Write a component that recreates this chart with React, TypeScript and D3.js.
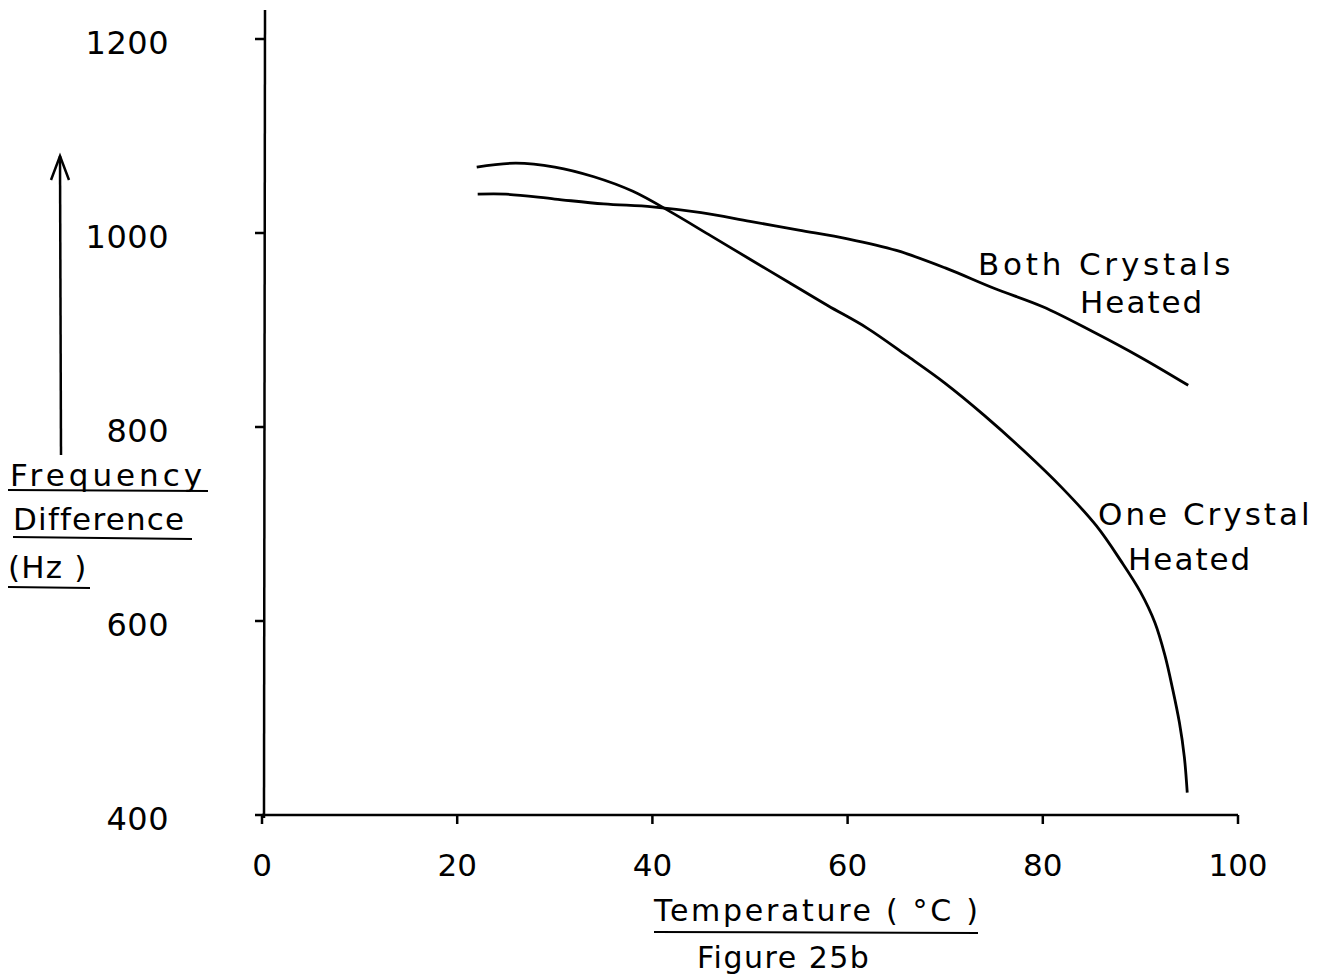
import React from "react";
import * as d3 from "d3";

const xTicks = [0, 20, 40, 60, 80, 100];
const yTicks = [400, 600, 800, 1000, 1200];

const oneCrystalT = [22, 26, 30, 34, 38, 42, 46, 50, 54, 58, 62, 66, 70, 74, 78, 82, 85.5, 88, 90, 91.5, 92.5, 93.3, 94, 94.5, 94.8];
const oneCrystalV = [1068, 1072, 1068, 1058, 1043, 1021, 997, 973, 949, 925, 902, 874, 845, 812, 776, 737, 698, 662, 630, 598, 565, 530, 495, 460, 423];

const bothCrystalsT = [22.1, 25, 30, 35, 40, 45, 50, 55, 60, 65, 70, 75, 80, 85, 90, 94.9];
const bothCrystalsV = [1040, 1040, 1035, 1030, 1027, 1021, 1012, 1003, 994, 982, 964, 943, 924, 899, 872, 843];

const FONT = "'DejaVu Sans', sans-serif";

export default function App() {
  const x = d3.scaleLinear().domain([0, 100]).range([262, 1238]);
  const y = d3.scaleLinear().domain([400, 1200]).range([815, 39]);
  const line = d3
    .line<[number, number]>()
    .x((d) => x(d[0]))
    .y((d) => y(d[1]))
    .curve(d3.curveCatmullRom.alpha(0.5));
  const one = oneCrystalT.map((t, i) => [t, oneCrystalV[i]] as [number, number]);
  const both = bothCrystalsT.map((t, i) => [t, bothCrystalsV[i]] as [number, number]);

  return (
    <svg
      width={1330}
      height={977}
      style={{ position: "absolute", left: 0, top: 0, background: "#fff" }}
      fontFamily={FONT}
    >
      <rect x={0} y={0} width={1330} height={977} fill="#fff" />
      {/* axes */}
      <line x1={265} y1={10} x2={264} y2={818} stroke="#000" strokeWidth={2.5} />
      <line x1={262} y1={815} x2={1238} y2={815} stroke="#000" strokeWidth={2.5} />
      {yTicks.map((v) => (
        <g key={"y" + v}>
          <line x1={255} x2={265} y1={y(v)} y2={y(v)} stroke="#000" strokeWidth={2.5} />
          <text
            x={169}
            y={y(v) + 15}
            textAnchor="end"
            fontSize={32}
            letterSpacing={0.5}
            fill="#000"
          >
            {v}
          </text>
        </g>
      ))}
      {xTicks.map((t) => (
        <g key={"x" + t}>
          <line x1={x(t)} x2={x(t)} y1={815} y2={824} stroke="#000" strokeWidth={2.5} />
          <text x={x(t)} y={876} textAnchor="middle" fontSize={31} fill="#000">
            {t}
          </text>
        </g>
      ))}
      {/* curves */}
      <path d={line(one) || ""} fill="none" stroke="#000" strokeWidth={2.8} />
      <path d={line(both) || ""} fill="none" stroke="#000" strokeWidth={2.8} />
      {/* curve labels */}
      <text x={978} y={275} fontSize={31} letterSpacing={3.8} fill="#000">Both Crystals</text>
      <text x={1080} y={313} fontSize={31} letterSpacing={2} fill="#000">Heated</text>
      <text x={1098} y={525} fontSize={31} letterSpacing={3} fill="#000">One Crystal</text>
      <text x={1128} y={570} fontSize={31} letterSpacing={2} fill="#000">Heated</text>
      {/* y-axis title with arrow */}
      <line x1={61} y1={455} x2={60} y2={156} stroke="#000" strokeWidth={2.5} />
      <polyline points="51,180 60,156 69,180" fill="none" stroke="#000" strokeWidth={2.5} />
      <text x={10} y={486} fontSize={31} letterSpacing={4} fill="#000">Frequency</text>
      <line x1={8} x2={208} y1={490} y2={491} stroke="#000" strokeWidth={2} />
      <text x={13} y={530} fontSize={31} letterSpacing={1.2} fill="#000">Difference</text>
      <line x1={13} x2={192} y1={537} y2={539} stroke="#000" strokeWidth={2} />
      <text x={8} y={578} fontSize={31} letterSpacing={1.2} fill="#000">(Hz )</text>
      <line x1={8} x2={90} y1={587} y2={588} stroke="#000" strokeWidth={2} />
      {/* x-axis title */}
      <text x={654} y={921} fontSize={30} letterSpacing={2.7} fill="#000">Temperature ( °C )</text>
      <line x1={654} x2={978} y1={932} y2={933} stroke="#000" strokeWidth={2} />
      <text x={697} y={968} fontSize={30} letterSpacing={1.5} fill="#000">Figure 25b</text>
    </svg>
  );
}
